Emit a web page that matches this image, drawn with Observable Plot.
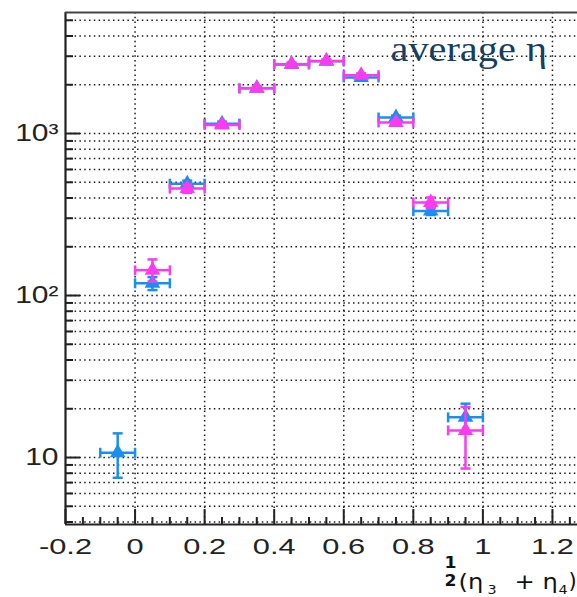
<!DOCTYPE html>
<html><head><meta charset="utf-8">
<script src="https://cdn.jsdelivr.net/npm/d3@7"></script>
<script src="https://cdn.jsdelivr.net/npm/@observablehq/plot@0.6"></script>
<style>html,body{margin:0;padding:0;background:#fff;overflow:hidden} svg{display:block}</style>
</head><body><div id="chart"></div>
<script>
// ---- data ----
const binCenters = [-0.05, 0.05, 0.15, 0.25, 0.35, 0.45, 0.55, 0.65, 0.75, 0.85, 0.95];
const binHalfWidth = 0.05;
const blueValues = [10.7, 119, 490, 1150, 1900, 2670, 2790, 2220, 1255, 332, 17.7];
const blueLow    = [7.5, 108, 468, 1116, 1856, 2618, 2737, 2173, 1220, 314, 14.1];
const blueHigh   = [14.1, 130, 512, 1184, 1944, 2722, 2843, 2267, 1290, 350, 21.5];
const magentaCenters = [0.05, 0.15, 0.25, 0.35, 0.45, 0.55, 0.65, 0.75, 0.85, 0.95];
const magentaValues = [143, 457, 1130, 1900, 2680, 2800, 2290, 1170, 375, 14.7];
const magentaLow    = [122, 430, 1090, 1850, 2620, 2740, 2230, 1135, 348, 8.55];
const magentaHigh   = [167, 484, 1170, 1950, 2740, 2860, 2350, 1205, 403, 20.5];

const xTickValues = [-0.2, 0, 0.2, 0.4, 0.6, 0.8, 1.0, 1.2];
const xTickLabels = ["-0.2", "0", "0.2", "0.4", "0.6", "0.8", "1", "1.2"];
const xMinorTicks = [-0.15, -0.1, -0.05, 0.05, 0.1, 0.15, 0.25, 0.3, 0.35, 0.45, 0.5, 0.55, 0.65, 0.7, 0.75, 0.85, 0.9, 0.95, 1.05, 1.1, 1.15, 1.25];
const xGridValues = [0, 0.2, 0.4, 0.6, 0.8, 1.0, 1.2];
const yTickValues = [10, 100, 1000];
const yTickLabels = ["10", "10²", "10³"];
const yMinorTicks = [4, 5, 6, 7, 8, 9, 20, 30, 40, 50, 60, 70, 80, 90, 200, 300, 400, 500, 600, 700, 800, 900, 2000, 3000, 4000, 5000];
const xDomain = [-0.2, 1.272];
const yDomain = [3.86, 5585];
const annotation = "average η";
const titleParts = {one: "1", two: "2", open: "(η", sub3: "3", plus: "+ η", sub4: "4", close: ")"};

// ---- build ----
const blueRows = binCenters.map((x, i) => ({x, v: blueValues[i], lo: blueLow[i], hi: blueHigh[i]}));
const magentaRows = magentaCenters.map((x, i) => ({x, v: magentaValues[i], lo: magentaLow[i], hi: magentaHigh[i]}));

const vCap = {draw(ctx, size) { const h = Math.sqrt(size / Math.PI); ctx.moveTo(0, -h); ctx.lineTo(0, h); }};
const hCap = {draw(ctx, size) { const h = Math.sqrt(size / Math.PI); ctx.moveTo(-h, 0); ctx.lineTo(h, 0); }};

function seriesMarks(rows, color) {
  const sw = 2.5;
  return [
    Plot.ruleY(rows, {y: "v", x1: d => d.x - binHalfWidth, x2: d => d.x + binHalfWidth, stroke: color, strokeWidth: sw}),
    Plot.dot(rows, {x: d => d.x - binHalfWidth, y: "v", symbol: vCap, r: 5, fill: "none", stroke: color, strokeWidth: sw}),
    Plot.dot(rows, {x: d => d.x + binHalfWidth, y: "v", symbol: vCap, r: 5, fill: "none", stroke: color, strokeWidth: sw}),
    Plot.ruleX(rows, {x: "x", y1: "lo", y2: "hi", stroke: color, strokeWidth: sw}),
    Plot.dot(rows, {x: "x", y: "lo", symbol: hCap, r: 5, fill: "none", stroke: color, strokeWidth: sw}),
    Plot.dot(rows, {x: "x", y: "hi", symbol: hCap, r: 5, fill: "none", stroke: color, strokeWidth: sw}),
    Plot.dot(rows, {x: "x", y: "v", symbol: "triangle", r: 5.8, fill: color, stroke: "none"})
  ];
}

const W = 577, H = 597, ML = 65, MR = 0, MT = 12, MB = 73;
const innerW = W - ML - MR, innerH = H - MT - MB;
const gridStyle = {stroke: "#1a1a1a", strokeWidth: 1.5, strokeDasharray: "1.5,3.3"};
const axisColor = "#222";
const blue = "#1b8ef2";
const magenta = "#fa3cf0";
const titleFont = {fontFamily: "DejaVu Sans", fontSize: 22, fill: "#111", frameAnchor: "bottom-left", textAnchor: "start", lineAnchor: "middle"};

const textMarks = [
  [Plot.text(yTickValues, {y: d => d, text: (d, i) => yTickLabels[i], frameAnchor: "left", dx: -7, textAnchor: "end", lineAnchor: "middle", fontSize: 24, fill: axisColor}), 1.25],
  [Plot.text(xTickValues, {x: d => d, text: (d, i) => xTickLabels[i], frameAnchor: "bottom", dy: 22, textAnchor: "middle", lineAnchor: "middle", fontSize: 22, fill: axisColor}), 1.4],
  [Plot.text([annotation], {frameAnchor: "top-left", dx: 325, dy: 48, textAnchor: "start", lineAnchor: "bottom", fontFamily: "Liberation Serif", fontSize: 36, fill: "#163e5e"}), 1.12],
  [Plot.text([titleParts.one], {...titleFont, fontSize: 15, textAnchor: "middle", dx: 385, dy: 39, fontWeight: "bold"}), 1.15],
  [Plot.text([titleParts.two], {...titleFont, fontSize: 15, textAnchor: "middle", dx: 385, dy: 57, fontWeight: "bold"}), 1.15],
  [Plot.text([titleParts.open], {...titleFont, dx: 393, dy: 57}), 1.1],
  [Plot.text([titleParts.sub3], {...titleFont, fontSize: 13, dx: 422, dy: 65}), 1.1],
  [Plot.text([titleParts.plus], {...titleFont, dx: 449, dy: 57}), 1.1],
  [Plot.text([titleParts.sub4], {...titleFont, fontSize: 13, dx: 493, dy: 65}), 1.1],
  [Plot.text([titleParts.close], {...titleFont, fontSize: 21, dx: 503, dy: 57}), 1.0]
];

const svg = Plot.plot({
  width: W, height: H,
  marginLeft: ML, marginRight: MR, marginTop: MT, marginBottom: MB,
  style: {fontFamily: "Liberation Sans", background: "#fff", color: axisColor},
  x: {type: "linear", domain: xDomain, axis: null},
  y: {type: "log", domain: yDomain, axis: null},
  marks: [
    Plot.ruleY(yMinorTicks.concat(yTickValues), {y: d => d, ...gridStyle}),
    Plot.ruleX(xGridValues, {x: d => d, ...gridStyle}),
    Plot.tickY(yTickValues, {y: d => d, insetRight: innerW - 15, stroke: axisColor, strokeWidth: 2}),
    Plot.tickY(yMinorTicks, {y: d => d, insetRight: innerW - 8, stroke: axisColor, strokeWidth: 2}),
    Plot.tickX(xTickValues, {x: d => d, insetTop: innerH - 15, stroke: axisColor, strokeWidth: 2}),
    Plot.tickX(xMinorTicks, {x: d => d, insetTop: innerH - 7, stroke: axisColor, strokeWidth: 2}),
    Plot.ruleX([xDomain[0]], {x: d => d, stroke: axisColor, strokeWidth: 2.2}),
    Plot.ruleY([yDomain[0]], {y: d => d, stroke: axisColor, strokeWidth: 2.2}),
    Plot.ruleY([yDomain[1]], {y: d => d, stroke: "#444", strokeWidth: 1.8}),
    ...seriesMarks(blueRows, blue),
    ...seriesMarks(magentaRows, magenta),
    ...textMarks.map(d => d[0])
  ]
});

// horizontal stretch of the glyphs, as in the reference picture
const stretches = textMarks.map(d => d[1]);
d3.select(svg).selectAll('g[aria-label="text"]').each(function(_, k) {
  const s = stretches[k] ?? 1.2;
  d3.select(this).selectAll("text").each(function() {
    const t = this.getAttribute("transform") || "";
    this.setAttribute("transform", t + ` scale(${s},1)`);
  });
});

document.getElementById("chart").appendChild(svg);
</script>
</body></html>
